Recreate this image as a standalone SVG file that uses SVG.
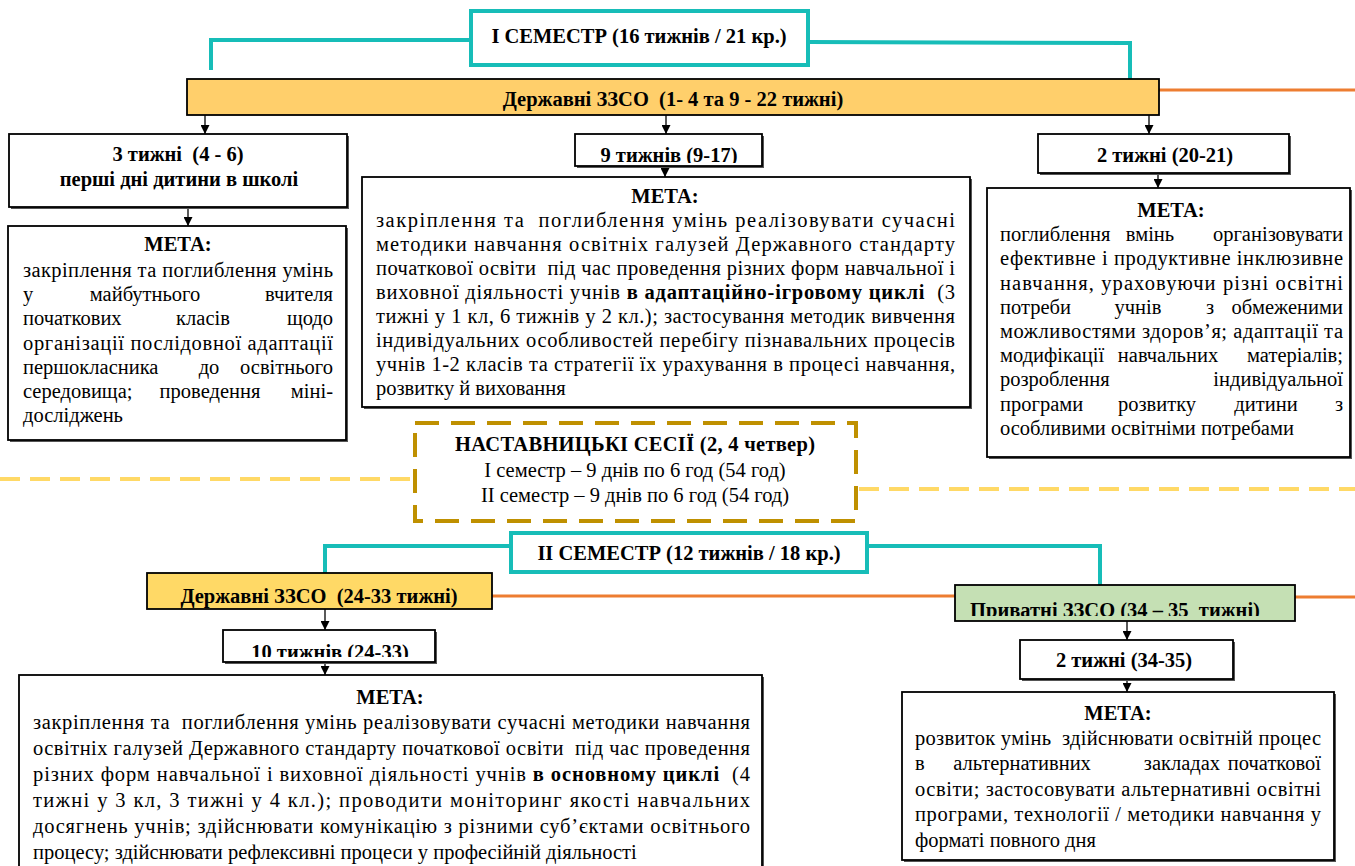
<svg xmlns="http://www.w3.org/2000/svg" width="1355" height="866" viewBox="0 0 1355 866">
<style>
.t{font-family:'Liberation Serif','Times New Roman',serif;font-size:20.5px;fill:#000}
.b{font-weight:bold}
.h{font-family:'Liberation Serif','Times New Roman',serif;font-size:20.5px;font-weight:bold;text-anchor:middle;fill:#000}
.m{text-anchor:middle}
.e{text-anchor:end}
.box{fill:#fff;stroke:#000;stroke-width:1.8}
.sh{fill:#555}
.tealbox{fill:#fff;stroke:#17BDB8;stroke-width:4}
.teal{fill:none;stroke:#17BDB8;stroke-width:4}
.org{fill:none;stroke:#ED7D31;stroke-width:3}
.ydash{fill:none;stroke:#FFD966;stroke-width:4;stroke-dasharray:20 10}
.arr{fill:none;stroke:#000;stroke-width:1.3;marker-end:url(#ah)}
</style>
<defs>
<marker id="ah" viewBox="0 0 10 10" refX="10" refY="5" markerWidth="9" markerHeight="9" markerUnits="userSpaceOnUse" orient="auto">
<path d="M0,0 L10,5 L0,10 z" fill="#000"/>
</marker>
<clipPath id="c1"><rect x="575" y="134" width="187" height="29"/></clipPath>
<clipPath id="c2"><rect x="223" y="630" width="214" height="27"/></clipPath>
<clipPath id="c3"><rect x="955" y="585" width="340" height="31"/></clipPath>
</defs>
<g id="connectors">
<polyline class="teal" points="471,40 211,40 211,70"/>
<polyline class="teal" points="808,42 1130,43 1130,79"/>
<polyline class="teal" points="511,546 325,546 325,573"/>
<polyline class="teal" points="867,546 1100,546 1100,585"/>
<line class="org" x1="1159" y1="90" x2="1355" y2="90"/>
<line class="org" x1="492" y1="596" x2="955" y2="596"/>
<line class="org" x1="1295" y1="597" x2="1355" y2="597"/>
<line class="ydash" x1="0" y1="479" x2="415" y2="479"/>
<line class="ydash" x1="859" y1="489" x2="1355" y2="489"/>
<line class="arr" x1="205" y1="115" x2="205" y2="134"/>
<line class="arr" x1="666" y1="115" x2="666" y2="134"/>
<line class="arr" x1="1149" y1="115" x2="1149" y2="134"/>
<line class="arr" x1="188" y1="207" x2="188" y2="226"/>
<line class="arr" x1="665" y1="166" x2="665" y2="177"/>
<line class="arr" x1="1158" y1="173" x2="1158" y2="188"/>
<line class="arr" x1="325" y1="609" x2="325" y2="630"/>
<line class="arr" x1="325" y1="662" x2="325" y2="675"/>
<line class="arr" x1="1127" y1="621" x2="1127" y2="640"/>
<line class="arr" x1="1127" y1="679" x2="1127" y2="692"/>
</g>
<g id="sem1">
<rect class="tealbox" x="471" y="11" width="337" height="54"/>
<text class="h" x="639" y="43">I СЕМЕСТР (16 тижнів / 21 кр.)</text>
</g>
<g id="state1">
<rect x="187" y="79" width="972" height="36" fill="#FFCF6B" stroke="#000" stroke-width="1.8"/>
<text class="h" x="673" y="106">Державні ЗЗСО &#160;(1- 4 та 9 - 22 тижні)</text>
</g>
<g id="weeks3">
<rect class="sh" x="11" y="136" width="338" height="73"/>
<rect class="box" x="9" y="134" width="338" height="73"/>
<text class="h" x="178" y="161">3 тижні &#160;(4 - 6)</text>
<text class="h" x="179" y="186">перші дні дитини в школі</text>
</g>
<g id="goal1">
<rect class="sh" x="10" y="228" width="338" height="214"/>
<rect class="box" x="8" y="226" width="338" height="214"/>
<text class="h" x="178" y="251">МЕТА:</text>
<text class="t" x="23" y="277" textLength="310" lengthAdjust="spacing">закріплення та поглиблення умінь</text>
<text class="t" x="23" y="301">у</text><text class="t m" x="145" y="301">майбутнього</text><text class="t e" x="333" y="301">вчителя</text>
<text class="t" x="23" y="325">початкових</text><text class="t m" x="203" y="325">класів</text><text class="t e" x="333" y="325">щодо</text>
<text class="t" x="23" y="350" textLength="310" lengthAdjust="spacing">організації послідовної адаптації</text>
<text class="t" x="23" y="374">першокласника</text><text class="t m" x="209" y="374">до</text><text class="t e" x="333" y="374">освітнього</text>
<text class="t" x="23" y="398">середовища;</text><text class="t m" x="210" y="398">проведення</text><text class="t e" x="333" y="398">міні-</text>
<text class="t" x="23" y="422">досліджень</text>
</g>
<g id="weeks9">
<rect class="sh" x="577" y="136" width="187" height="32"/>
<rect class="box" x="575" y="134" width="187" height="32"/>
<text class="h" x="669" y="162" clip-path="url(#c1)">9 тижнів (9-17)</text>
</g>
<g id="goal2">
<rect class="sh" x="364" y="179" width="608" height="230"/>
<rect class="box" x="362" y="177" width="608" height="230"/>
<text class="h" x="665" y="203">МЕТА:</text>
<text class="t" x="376" y="227" textLength="579" lengthAdjust="spacing">закріплення та &#160;поглиблення умінь реалізовувати сучасні</text>
<text class="t" x="376" y="251" textLength="579" lengthAdjust="spacing">методики навчання освітніх галузей Державного стандарту</text>
<text class="t" x="376" y="275" textLength="579" lengthAdjust="spacing">початкової освіти &#160;під час проведення різних форм навчальної і</text>
<text class="t" x="376" y="299" textLength="579" lengthAdjust="spacing">виховної діяльності учнів <tspan class="b">в адаптаційно-ігровому циклі</tspan> &#160;(3</text>
<text class="t" x="376" y="323" textLength="579" lengthAdjust="spacing">тижні у 1 кл, 6 тижнів у 2 кл.); застосування методик вивчення</text>
<text class="t" x="376" y="347" textLength="579" lengthAdjust="spacing">індивідуальних особливостей перебігу пізнавальних процесів</text>
<text class="t" x="376" y="371" textLength="579" lengthAdjust="spacing">учнів 1-2 класів та стратегії їх урахування в процесі навчання,</text>
<text class="t" x="376" y="395">розвитку й виховання</text>
</g>
<g id="weeks2a">
<rect class="sh" x="1040" y="136" width="251" height="39"/>
<rect class="box" x="1038" y="134" width="251" height="39"/>
<text class="h" x="1165" y="162">2 тижні (20-21)</text>
</g>
<g id="goal3">
<rect class="sh" x="989" y="190" width="363" height="269"/>
<rect class="box" x="987" y="188" width="363" height="269"/>
<text class="h" x="1171" y="217">МЕТА:</text>
<text class="t" x="1000" y="241">поглиблення</text><text class="t m" x="1150" y="241">вмінь</text><text class="t e" x="1343" y="241">організовувати</text>
<text class="t" x="1000" y="265" textLength="343" lengthAdjust="spacing">ефективне і продуктивне інклюзивне</text>
<text class="t" x="1000" y="290" textLength="343" lengthAdjust="spacing">навчання, ураховуючи різні освітні</text>
<text class="t" x="1000" y="314">потреби</text><text class="t m" x="1138" y="314">учнів</text><text class="t m" x="1210" y="314">з</text><text class="t e" x="1343" y="314">обмеженими</text>
<text class="t" x="1000" y="338" textLength="343" lengthAdjust="spacing">можливостями здоров’я; адаптації та</text>
<text class="t" x="1000" y="362">модифікації</text><text class="t m" x="1168" y="362">навчальних</text><text class="t e" x="1343" y="362">матеріалів;</text>
<text class="t" x="1000" y="386">розроблення</text><text class="t e" x="1343" y="386">індивідуальної</text>
<text class="t" x="1000" y="411">програми</text><text class="t m" x="1157" y="411">розвитку</text><text class="t m" x="1266" y="411">дитини</text><text class="t e" x="1343" y="411">з</text>
<text class="t" x="1000" y="435">особливими освітніми потребами</text>
</g>
<g id="mentor">
<rect x="415" y="423" width="441" height="98" fill="#fff" stroke="#BF9000" stroke-width="4" stroke-dasharray="24 12"/>
<text class="h" x="635" y="451" textLength="360" lengthAdjust="spacing">НАСТАВНИЦЬКІ СЕСІЇ (2, 4 четвер)</text>
<text class="t m" x="635" y="477">I семестр – 9 днів по 6 год (54 год)</text>
<text class="t m" x="635" y="502">II семестр – 9 днів по 6 год (54 год)</text>
</g>
<g id="sem2">
<rect class="tealbox" x="511" y="533" width="356" height="39"/>
<text class="h" x="689" y="560">II СЕМЕСТР (12 тижнів / 18 кр.)</text>
</g>
<g id="state2">
<rect x="147" y="573" width="345" height="36" fill="#FFD966" stroke="#000" stroke-width="1.8"/>
<text class="h" x="319" y="603">Державні ЗЗСО &#160;(24-33 тижні)</text>
</g>
<g id="private">
<rect x="955" y="585" width="340" height="36" fill="#C5E0B4" stroke="#000" stroke-width="1.8"/>
<text class="h" x="1115" y="617" clip-path="url(#c3)">Приватні ЗЗСО (34 – 35 &#160;тижні)</text>
</g>
<g id="weeks10">
<rect class="sh" x="225" y="632" width="212" height="32"/>
<rect class="box" x="223" y="630" width="212" height="32"/>
<text class="h" x="330" y="659" clip-path="url(#c2)">10 тижнів (24-33)</text>
</g>
<g id="weeks2b">
<rect class="sh" x="1022" y="642" width="213" height="39"/>
<rect class="box" x="1020" y="640" width="213" height="39"/>
<text class="h" x="1124" y="667">2 тижні (34-35)</text>
</g>
<g id="goal4">
<rect class="sh" x="21" y="677" width="743" height="210"/>
<rect class="box" x="19" y="675" width="743" height="210"/>
<text class="h" x="390" y="704">МЕТА:</text>
<text class="t" x="33" y="729" textLength="717" lengthAdjust="spacing">закріплення та &#160;поглиблення умінь реалізовувати сучасні методики навчання</text>
<text class="t" x="33" y="755" textLength="717" lengthAdjust="spacing">освітніх галузей Державного стандарту початкової освіти &#160;під час проведення</text>
<text class="t" x="33" y="781" textLength="717" lengthAdjust="spacing">різних форм навчальної і виховної діяльності учнів <tspan class="b">в основному циклі</tspan> &#160;(4</text>
<text class="t" x="33" y="807" textLength="717" lengthAdjust="spacing">тижні у 3 кл, 3 тижні у 4 кл.); проводити моніторинг якості навчальних</text>
<text class="t" x="33" y="833" textLength="717" lengthAdjust="spacing">досягнень учнів; здійснювати комунікацію з різними суб’єктами освітнього</text>
<text class="t" x="33" y="859">процесу; здійснювати рефлексивні процеси у професійній діяльності</text>
</g>
<g id="goal5">
<rect class="sh" x="904" y="694" width="432" height="168"/>
<rect class="box" x="902" y="692" width="432" height="168"/>
<text class="h" x="1118" y="720">МЕТА:</text>
<text class="t" x="915" y="745" textLength="406" lengthAdjust="spacing">розвиток умінь &#160;здійснювати освітній процес</text>
<text class="t" x="915" y="770">в</text><text class="t m" x="1022" y="770">альтернативних</text><text class="t m" x="1182" y="770">закладах</text><text class="t e" x="1321" y="770">початкової</text>
<text class="t" x="915" y="796" textLength="406" lengthAdjust="spacing">освіти; застосовувати альтернативні освітні</text>
<text class="t" x="915" y="821" textLength="406" lengthAdjust="spacing">програми, технології / методики навчання у</text>
<text class="t" x="915" y="847">форматі повного дня</text>
</g>
</svg>
